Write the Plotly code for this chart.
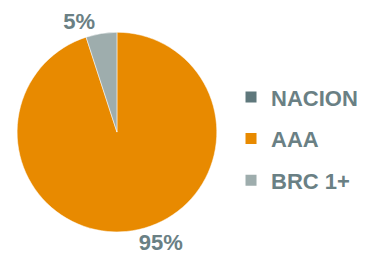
import plotly.graph_objects as go

labels = ["NACION", "AAA", "BRC 1+"]
values = [0, 95, 5]
colors = ["#5f787c", "#e88a00", "#9eadad"]
label_color = "#6a8084"

fig = go.Figure()
fig.add_trace(go.Pie(
    labels=labels, values=values, sort=False, direction="clockwise", rotation=0,
    marker=dict(colors=colors, line=dict(color="rgba(255,255,255,0.5)", width=1)),
    text=[f"{v}%" if v > 0 else "" for v in values],
    textinfo="text", textposition="outside",
    outsidetextfont=dict(family="Liberation Sans", size=22, color=label_color, weight="bold"),
    showlegend=False, hoverinfo="label+percent", automargin=False,
    domain=dict(x=[0.025, 0.572], y=[0.151, 0.909]),
))
for lab, col in zip(labels, colors):
    fig.add_trace(go.Scatter(
        x=[None], y=[None], mode="markers", name=lab, legendgroup=lab,
        marker=dict(symbol="square", size=11, color=col),
    ))
fig.update_layout(
    width=365, height=264, margin=dict(l=0, r=0, t=0, b=0, autoexpand=False),
    paper_bgcolor="white", plot_bgcolor="white",
    xaxis=dict(visible=False), yaxis=dict(visible=False),
    legend=dict(x=0.611, y=0.505, xref="paper", xanchor="left", yanchor="middle", tracegroupgap=10,
                font=dict(family="Liberation Sans", size=22, color=label_color, weight="bold"),
                itemwidth=30, bgcolor="rgba(0,0,0,0)"),
)
fig.write_html("out.html")
